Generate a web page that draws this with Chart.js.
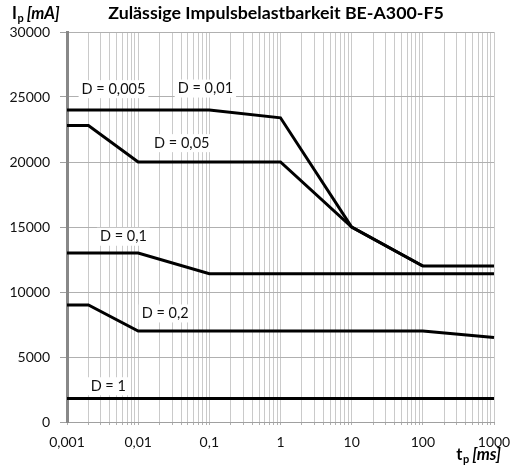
<!DOCTYPE html>
<html>
<head>
<meta charset="utf-8">
<script src="https://cdn.jsdelivr.net/npm/chart.js@4/dist/chart.umd.min.js"></script>
<style>
  body { margin: 0; background: #fff; }
</style>
</head>
<body>
<canvas id="chart" width="510" height="474"></canvas>
<script>
// x axis decades and their labels (German decimal comma)
var decades = [0.001, 0.01, 0.1, 1, 10, 100, 1000];
var decadeLabels = ['0,001', '0,01', '0,1', '1', '10', '100', '1000'];

// curves (t_p in ms, I_p in mA)
var xD0005 = [0.001, 0.1, 1, 10, 100, 1000];
var yD0005 = [24000, 24000, 23400, 15000, 12000, 12000];
var xD005 = [0.001, 0.002, 0.01, 1, 10, 100];
var yD005 = [22800, 22800, 20000, 20000, 15000, 12000];
var xD01 = [0.001, 0.01, 0.1, 1000];
var yD01 = [13000, 13000, 11400, 11400];
var xD02 = [0.001, 0.002, 0.01, 100, 1000];
var yD02 = [9000, 9000, 7000, 7000, 6500];
var xD1 = [0.001, 1000];
var yD1 = [1800, 1800];

// curve labels, placed in data coordinates
var labelTexts = ['D = 0,005', 'D = 0,01', 'D = 0,05', 'D = 0,1', 'D = 0,2', 'D = 1'];
var labelX = [0.0045, 0.088, 0.041, 0.0062, 0.024, 0.0038];
var labelY = [25600, 25650, 21450, 14250, 8350, 2750];

function toPoints(xs, ys) {
    var pts = [];
    for (let i = 0; i < xs.length; i++) {
        pts.push({ x: xs[i], y: ys[i] });
    }
    return pts;
}

function curve(xs, ys) {
    return {
        data: toPoints(xs, ys),
        borderColor: '#000',
        borderWidth: 3,
        pointRadius: 0,
        tension: 0,
        fill: false,
        clip: false
    };
}

function isDecade(v) {
    for (let i = 0; i < decades.length; i++) {
        if (Math.abs(Math.log10(v) - Math.log10(decades[i])) < 1e-6) {
            return i;
        }
    }
    return -1;
}

var labelFont = '14.5px Lato';
var tickFont = { family: 'Lato', size: 14 };

var curveLabels = {
    id: 'curveLabels',
    beforeDatasetsDraw(chart) {
        const ctx = chart.ctx;
        const xs = chart.scales.x, ys = chart.scales.y;
        ctx.save();
        ctx.font = labelFont;
        ctx.textAlign = 'center';
        ctx.textBaseline = 'middle';
        for (let i = 0; i < labelTexts.length; i++) {
            const px = xs.getPixelForValue(labelX[i]);
            const py = ys.getPixelForValue(labelY[i]);
            const w = ctx.measureText(labelTexts[i]).width;
            ctx.fillStyle = '#fff';
            ctx.fillRect(px - w / 2 - 3, py - 9, w + 6, 18);
            ctx.fillStyle = '#111';
            ctx.fillText(labelTexts[i], px, py);
        }
        ctx.restore();
    },
    afterDraw(chart) {
        const ctx = chart.ctx;
        ctx.save();
        ctx.fillStyle = '#000';
        ctx.textBaseline = 'alphabetic';

        // title
        ctx.font = 'bold 17.8px Lato';
        ctx.textAlign = 'center';
        ctx.fillText('Zulässige Impulsbelastbarkeit BE-A300-F5', 276, 19);

        // y axis title: I_p [mA]
        ctx.textAlign = 'left';
        var x = 12;
        ctx.font = 'bold 16.5px Lato';
        ctx.fillText('I', x, 19);
        x += ctx.measureText('I').width + 0.5;
        ctx.font = 'bold 11px Lato';
        ctx.fillText('p', x, 22);
        x += ctx.measureText('p').width + 3;
        ctx.font = 'italic bold 16.5px Lato';
        ctx.fillText('[mA]', x, 19);

        // x axis title: t_p [ms], right aligned
        ctx.font = 'italic bold 16.5px Lato';
        var w1 = ctx.measureText('[ms]').width;
        ctx.font = 'bold 11px Lato';
        var w2 = ctx.measureText('p').width;
        ctx.font = 'bold 16.5px Lato';
        var w3 = ctx.measureText('t').width;
        var xr = 501;
        var xs0 = xr - w1 - 3 - w2 - 0.5 - w3;
        ctx.fillText('t', xs0, 460);
        ctx.font = 'bold 11px Lato';
        ctx.fillText('p', xs0 + w3 + 0.5, 463);
        ctx.font = 'italic bold 16.5px Lato';
        ctx.fillText('[ms]', xr - w1, 460);
        ctx.restore();
    }
};

const ctx = document.getElementById('chart').getContext('2d');
var chartId = new Chart(ctx, {
    type: 'line',
    data: {
        datasets: [
            curve(xD0005, yD0005),
            curve(xD005, yD005),
            curve(xD01, yD01),
            curve(xD02, yD02),
            curve(xD1, yD1)
        ]
    },
    options: {
        responsive: false,
        animation: false,
        layout: {
            padding: { top: 32, right: 16, left: 0, bottom: 0 }
        },
        scales: {
            x: {
                type: 'logarithmic',
                min: decades[0],
                max: decades[decades.length - 1],
                afterBuildTicks: (scale) => {
                    var ticks = [];
                    for (let i = 0; i < decades.length - 1; i++) {
                        for (let m = 1; m < 10; m++) {
                            ticks.push({ value: m * decades[i] });
                        }
                    }
                    ticks.push({ value: decades[decades.length - 1] });
                    scale.ticks = ticks;
                },
                afterFit: (scale) => {
                    scale.height = 52;
                    scale.paddingLeft = 0;
                    scale.paddingRight = 0;
                },
                grid: {
                    color: '#cacaca',
                    lineWidth: 1,
                    tickLength: 3,
                    tickColor: '#b0b0b0'
                },
                border: { color: '#a0a0a0', width: 1 },
                ticks: {
                    autoSkip: false,
                    maxRotation: 0,
                    padding: 9,
                    color: '#111',
                    font: tickFont,
                    callback: (val) => {
                        var i = isDecade(val);
                        return i >= 0 ? decadeLabels[i] : '';
                    }
                }
            },
            y: {
                min: 0,
                max: 30000,
                afterFit: (scale) => {
                    scale.width = 67;
                    scale.paddingTop = 0;
                    scale.paddingBottom = 0;
                },
                grid: {
                    color: '#b0b0b0',
                    lineWidth: 1,
                    tickLength: 7,
                    tickColor: '#a0a0a0'
                },
                border: { color: '#888', width: 3 },
                ticks: {
                    stepSize: 5000,
                    padding: 10,
                    color: '#111',
                    font: tickFont,
                    callback: (val) => val
                }
            }
        },
        plugins: {
            legend: { display: false },
            tooltip: { enabled: false }
        }
    },
    plugins: [curveLabels]
});
</script>
</body>
</html>
